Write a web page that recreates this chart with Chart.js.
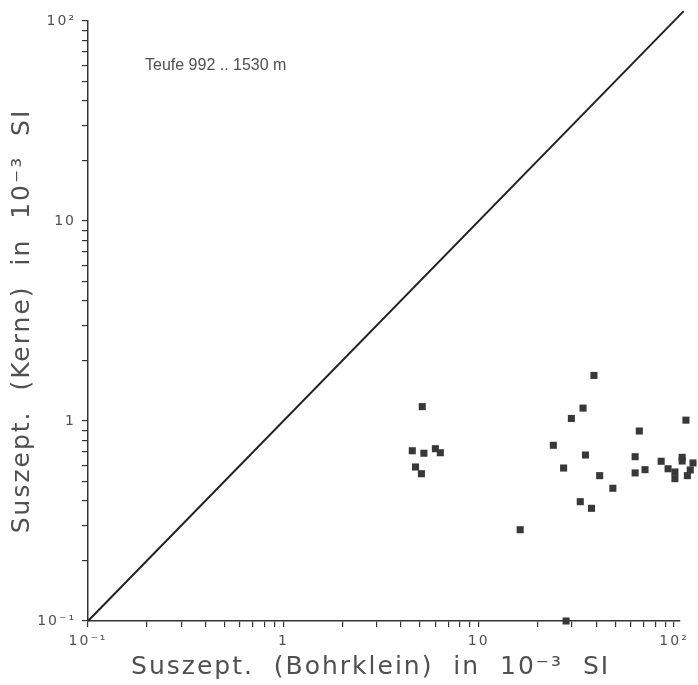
<!DOCTYPE html>
<html>
<head>
<meta charset="utf-8">
<script src="https://cdn.jsdelivr.net/npm/chart.js@4/dist/chart.umd.min.js"></script>
<style>
  html, body { margin: 0; padding: 0; background: #fff; }
  canvas { display: block; }
</style>
</head>
<body>
<canvas id="suszGraph" width="698" height="685"></canvas>
<script>
// Suszeptibilitaet: Bohrklein (x) gegen Kerne (y), beide in 10^-3 SI
const bohrklein = [5.14, 4.57, 5.24, 6.0, 6.36, 4.75, 5.09, 16.3, 38.9, 34.2, 29.8, 24.1, 35.2, 27.2, 41.6, 48.6, 33.1, 37.8,
                   66.4, 63.2, 63.2, 71.0, 85.9, 93.2, 101, 101, 110, 110, 115, 117, 121, 125, 28.0];
const kerne     = [1.18, 0.71, 0.69, 0.727, 0.694, 0.589, 0.545, 0.286, 1.69, 1.16, 1.03, 0.756, 0.676, 0.582, 0.533, 0.461, 0.395, 0.366,
                   0.891, 0.663, 0.55, 0.571, 0.629, 0.577, 0.556, 0.515, 0.658, 0.631, 1.01, 0.533, 0.569, 0.617, 0.1];

// 1:1 Linie (laeuft etwas ueber die Ecke hinaus wie im Original)
const diagonal = [0.1, 112];

const decades = [0.1, 1, 10, 100];
const decadeLabels = ['10\u207B\u00B9', '1', '10', '10\u00B2'];
const minorSteps = [1, 2, 3, 4, 5, 6, 7, 8, 9];

const infoText = 'Teufe 992 .. 1530 m';

const ink = '#333';
const textInk = '#505050';

const tickValues = [];
decades.forEach((d, i) => {
    if (i === decades.length - 1) {
        tickValues.push(d);
    } else {
        minorSteps.forEach(m => tickValues.push(d * m));
    }
});

function tickLabel(value) {
    for (let i = 0; i < decades.length; i++) {
        if (Math.abs(value - decades[i]) < decades[i] * 1e-6) return decadeLabels[i];
    }
    return '';
}

const canvas = document.getElementById('suszGraph');
const ctx = canvas.getContext('2d');

// x-Achse endet bei 10^2, Punkte rechts davon sollen trotzdem sichtbar sein
const xBorder = ctx.createLinearGradient(0, 0, 698, 0);
xBorder.addColorStop(0, ink);
xBorder.addColorStop(680 / 698, ink);
xBorder.addColorStop(681 / 698, 'rgba(255,255,255,0)');
xBorder.addColorStop(1, 'rgba(255,255,255,0)');

function logAxis(max, titleText, titlePad, fitFn, borderColor) {
    return {
        type: 'logarithmic',
        min: 0.1,
        max: max,
        afterBuildTicks: (scale) => {
            scale.ticks = tickValues.map(v => ({ value: v }));
        },
        afterFit: fitFn,
        ticks: {
            autoSkip: false,
            maxRotation: 0,
            minRotation: 0,
            color: textInk,
            font: { family: 'DejaVu Sans', size: 14 },
            padding: 6,
            callback: (value) => tickLabel(value)
        },
        grid: {
            display: true,
            drawOnChartArea: false,
            drawTicks: true,
            tickLength: 6,
            color: ink,
            lineWidth: 1.2
        },
        border: { display: true, color: borderColor, width: 1.5 },
        title: {
            display: true,
            text: titleText,
            color: textInk,
            font: { family: 'DejaVu Sans', size: 25 },
            padding: titlePad
        }
    };
}

const spacingPlugin = {
    id: 'spacingPlugin',
    beforeDraw(chart) {
        chart.ctx.letterSpacing = '2px';
    }
};

const infoPlugin = {
    id: 'infoPlugin',
    afterDraw(chart) {
        const c = chart.ctx;
        c.save();
        c.letterSpacing = '0px';
        c.font = '16px "Liberation Sans"';
        c.fillStyle = textInk;
        c.textBaseline = 'alphabetic';
        c.fillText(infoText, 145, 70);
        c.restore();
    }
};

const chart = new Chart(canvas, {
    type: 'scatter',
    data: {
        datasets: [
            {
                label: 'Proben',
                data: bohrklein.map((x, i) => ({ x: x, y: kerne[i] })),
                pointStyle: 'rect',
                pointRadius: 5,
                pointHoverRadius: 5,
                backgroundColor: '#383838',
                borderColor: '#383838',
                borderWidth: 0,
                clip: false
            },
            {
                label: '1:1',
                data: diagonal.map(v => ({ x: v, y: v })),
                showLine: true,
                pointRadius: 0,
                borderColor: '#222',
                borderWidth: 2,
                clip: false
            }
        ]
    },
    options: {
        responsive: false,
        animation: false,
        layout: { padding: { top: 21, right: 0, left: 0, bottom: 0 } },
        plugins: {
            legend: { display: false },
            tooltip: { enabled: false }
        },
        scales: {
            // Bereich bis 125, damit die Punkte rechts von 10^2 noch gezeichnet werden
            x: logAxis(125, 'Suszept.  (Bohrklein)  in  10\u207B\u00B3  SI    ', 3, (scale) => { scale.height = 64; }, xBorder),
            y: logAxis(100, 'Suszept.  (Kerne)  in  10\u207B\u00B3  SI', 7, (scale) => { scale.width = 88; }, ink)
        }
    },
    plugins: [spacingPlugin, infoPlugin]
});
</script>
</body>
</html>
